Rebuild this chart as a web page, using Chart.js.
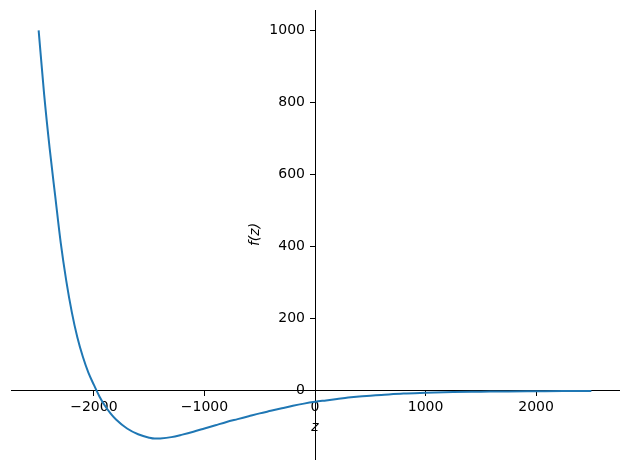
<!DOCTYPE html>
<html>
<head>
<meta charset="utf-8">
<script src="https://cdn.jsdelivr.net/npm/chart.js@4"></script>
<style>
  body { margin: 0; background: #fff; }
  canvas { display: block; }
</style>
</head>
<body>
<canvas id="fzChart" width="630" height="470"></canvas>
<script>
// values
const zValues = [-2500, -2450, -2400, -2350, -2300, -2250, -2200, -2150, -2100, -2050, -2000, -1950,
  -1900, -1850, -1800, -1700, -1600, -1500, -1450, -1400, -1300, -1200, -1100, -1000, -900, -800,
  -700, -600, -500, -400, -300, -200, -100, 0, 100, 200, 300, 400, 500, 600, 800, 1000, 1250, 1500,
  1750, 2000, 2250, 2500];
const fValues = [1000, 822, 672, 540, 410, 305, 218, 148, 94, 50, 16, -16,
  -42, -63, -80, -105, -121, -130.5, -133, -132.5, -129, -122, -114, -105, -96, -87,
  -79, -71, -63, -56, -49, -42, -36, -31, -27, -23, -19, -16, -14, -12, -8, -6, -4, -3,
  -2, -1.5, -1, -1];
const xTicks = [-2000, -1000, 0, 1000, 2000];
const yTicks = [0, 200, 400, 600, 800, 1000];
const xLabel = "z";
const yLabel = "f(z)";

const points = zValues.map((z, i) => ({ x: z, y: fValues[i] }));
const fmt = v => (v < 0 ? "\u2212" + Math.abs(v) : String(v));
const tickFont = { family: "DejaVu Sans", size: 14 };

// y tick labels and axis titles, drawn next to the centred axes
const axisLabels = {
  id: "axisLabels",
  afterDraw(chart) {
    const { ctx, scales } = chart;
    const x0 = scales.x.getPixelForValue(0);
    const y0 = scales.y.getPixelForValue(0);
    ctx.save();
    ctx.fillStyle = "#000";
    ctx.font = "14px 'DejaVu Sans'";
    ctx.textAlign = "right";
    ctx.textBaseline = "middle";
    yTicks.forEach(v => ctx.fillText(fmt(v), x0 - 10, scales.y.getPixelForValue(v)));
    ctx.font = "italic 14px 'DejaVu Sans'";
    ctx.textAlign = "center";
    ctx.fillText(xLabel, x0, y0 + 37);
    ctx.translate(x0 - 60, (chart.chartArea.top + chart.chartArea.bottom) / 2);
    ctx.rotate(-Math.PI / 2);
    ctx.fillText(yLabel, 0, 0);
    ctx.restore();
  }
};

new Chart(document.getElementById("fzChart").getContext("2d"), {
  type: "line",
  data: {
    datasets: [{
      data: points,
      borderColor: "#1f77b4",
      borderWidth: 2,
      pointRadius: 0,
      cubicInterpolationMode: "monotone",
      fill: false
    }]
  },
  options: {
    responsive: false,
    animation: false,
    layout: { padding: { left: 11, right: 11, top: 10, bottom: 11 } },
    plugins: { legend: { display: false }, tooltip: { enabled: false } },
    scales: {
      x: {
        type: "linear",
        min: -2750,
        max: 2750,
        position: { y: 0 },
        afterBuildTicks: scale => { scale.ticks = xTicks.map(v => ({ value: v })); },
        ticks: { color: "#000", font: tickFont, padding: 3, maxRotation: 0, callback: fmt },
        grid: { drawOnChartArea: false, color: "#000", tickLength: 5 },
        border: { color: "#000", width: 1 }
      },
      y: {
        type: "linear",
        min: -189.7,
        max: 1056.7,
        position: { x: 0 },
        afterBuildTicks: scale => { scale.ticks = yTicks.map(v => ({ value: v })); },
        ticks: { display: false },
        grid: { drawOnChartArea: false, color: "#000", tickLength: 5 },
        border: { color: "#000", width: 1 }
      }
    }
  },
  plugins: [axisLabels]
});
</script>
</body>
</html>
